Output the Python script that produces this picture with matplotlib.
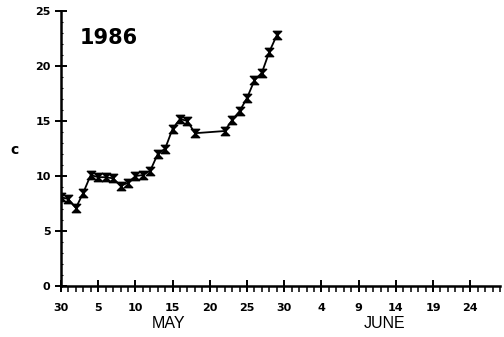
import matplotlib
matplotlib.use("Agg")
import matplotlib.pyplot as plt
from matplotlib.ticker import MultipleLocator, FixedLocator
from matplotlib.path import Path

# Days since April 30, 1986
days = [0, 1, 2, 3, 4, 5, 6, 7, 8, 9, 10, 11, 12, 13, 14, 15, 16, 17, 18,
        22, 23, 24, 25, 26, 27, 28, 29]
temp_c = [8.1, 7.9, 7.1, 8.5, 10.1, 9.9, 9.9, 9.8, 9.1, 9.4, 10.0, 10.1, 10.5,
          12.0, 12.5, 14.3, 15.2, 15.0, 13.9, 14.1, 15.1, 15.9, 17.1, 18.7,
          19.4, 21.3, 22.8]
tick_days = [0, 5, 10, 15, 20, 25, 30, 35, 40, 45, 50, 55]
tick_labels = ["30", "5", "10", "15", "20", "25", "30", "4", "9", "14", "19", "24"]
y_ticks = [0, 5, 10, 15, 20, 25]

plt.rcParams['font.family'] = ['Liberation Sans', 'DejaVu Sans']

fig = plt.figure(figsize=(5.04, 3.37), dpi=100)
ax = fig.add_axes([0.121, 0.151, 0.871, 0.816])

hourglass = Path([(-1, 1), (1, 1), (-1, -1), (1, -1), (-1, 1)],
                 [Path.MOVETO, Path.LINETO, Path.LINETO, Path.LINETO, Path.CLOSEPOLY])
ax.plot(days, temp_c, color='black', lw=1.3, marker=hourglass, ms=6,
        mfc='black', mec='black', mew=1.0)

ax.set_xlim(0, 59)
ax.set_ylim(0, 25)
for s in ['top', 'right']:
    ax.spines[s].set_visible(False)
for s in ['left', 'bottom']:
    ax.spines[s].set_linewidth(1.8)

tick_font = dict(family='DejaVu Sans', fontsize=8, fontweight='bold')
ax.xaxis.set_major_locator(FixedLocator(tick_days))
ax.set_xticklabels(tick_labels, **tick_font)
ax.xaxis.set_minor_locator(MultipleLocator(1))
ax.yaxis.set_major_locator(FixedLocator(y_ticks))
ax.set_yticklabels([str(v) for v in y_ticks], **tick_font)
ax.yaxis.set_minor_locator(MultipleLocator(1))

ax.tick_params(axis='x', which='major', direction='inout', length=9, width=1.4, pad=8)
ax.tick_params(axis='x', which='minor', direction='out', length=4, width=1.1)
ax.tick_params(axis='y', which='major', direction='inout', length=9, width=1.4, pad=3)
ax.tick_params(axis='y', which='minor', direction='in', length=1.5, width=0.8)

ax.text(2.5, 22.6, "1986", family='DejaVu Sans', fontsize=15, fontweight='bold',
        va='center', ha='left')
fig.text(0.028, 0.555, "c", family='DejaVu Sans', fontsize=10, fontweight='bold',
         ha='center', va='center')
ax.text(14.5, -3.4, "MAY", fontsize=11.5, ha='center', va='center')
ax.text(43.5, -3.4, "JUNE", fontsize=11.5, ha='center', va='center')

fig.savefig("out.png", dpi=100)
